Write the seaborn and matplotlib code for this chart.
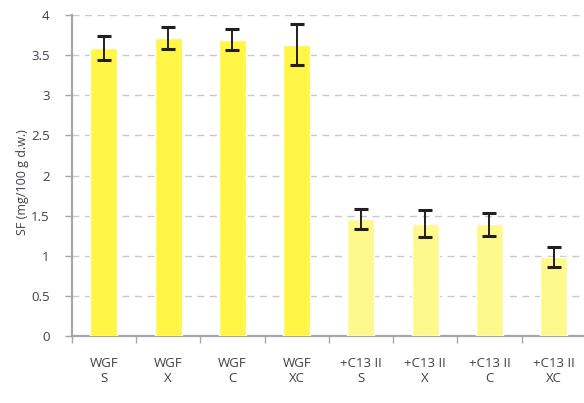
import matplotlib
matplotlib.use("Agg")
import matplotlib.pyplot as plt
import seaborn as sns
import numpy as np
import pandas as pd

# Data
categories = ["WGF\nS", "WGF\nX", "WGF\nC", "WGF\nXC",
              "+C13 II\nS", "+C13 II\nX", "+C13 II\nC", "+C13 II\nXC"]
sf_values = [3.59, 3.71, 3.69, 3.63, 1.46, 1.40, 1.39, 0.99]
sf_errors = [0.15, 0.14, 0.13, 0.26, 0.12, 0.17, 0.14, 0.125]
groups = ["WGF"] * 4 + ["C13"] * 4
y_ticks = [0, 0.5, 1, 1.5, 2, 2.5, 3, 3.5, 4]
y_tick_labels = ["0", "0.5", "1", "1.5", "2", "2.5", "3", "3.5", "4"]

df = pd.DataFrame({"cat": categories, "sf": sf_values, "err": sf_errors, "group": groups})

sns.set_theme(style="white")
plt.rcParams["font.family"] = ["Open Sans", "DejaVu Sans"]

text_color = "#3e3e50"
fig = plt.figure(figsize=(5.84, 4.03), dpi=100)
ax = fig.add_axes([0.123, 0.166, 0.88, 0.797])

sns.barplot(data=df, x="cat", y="sf", hue="group", dodge=False,
            palette={"WGF": "#fff645", "C13": "#fff88c"}, saturation=1,
            width=0.42, legend=False, ax=ax, errorbar=None, zorder=3)

ax.errorbar(np.arange(len(sf_values)), sf_values, yerr=sf_errors, fmt="none",
            ecolor="#202020", elinewidth=1.4, capsize=5, capthick=2.2, zorder=4)

ax.set_xlim(-0.5, 7.5)
ax.set_ylim(0, 4)
ax.set_yticks(y_ticks)
ax.set_yticklabels(y_tick_labels)
ax.yaxis.grid(True, linestyle=(0, (5, 4)), color="#c8c8c8", linewidth=1.0, zorder=0)
ax.xaxis.grid(False)

for side in ["top", "right"]:
    ax.spines[side].set_visible(False)
for side in ["left", "bottom"]:
    ax.spines[side].set_color("#a6a6a6")
    ax.spines[side].set_linewidth(1.6)

# Category boundary tick marks on x, none at the labels
ax.set_xticks(np.arange(-0.5, 7.6, 1), minor=True)
ax.tick_params(axis="x", which="minor", length=5, color="#a6a6a6", width=1, direction="out", bottom=True)
ax.tick_params(axis="x", which="major", length=0, pad=15, labelsize=9.5, labelcolor=text_color)
ax.tick_params(axis="y", which="major", length=5, color="#a6a6a6", width=1, direction="out",
               left=True, pad=11, labelsize=9.5, labelcolor=text_color)

ax.set_xlabel("")
ax.set_ylabel("SF (mg/100 g d.w.)", fontsize=9, color=text_color)
ax.yaxis.set_label_coords(-0.084, 0.48)

fig.savefig("out.png", dpi=100)
